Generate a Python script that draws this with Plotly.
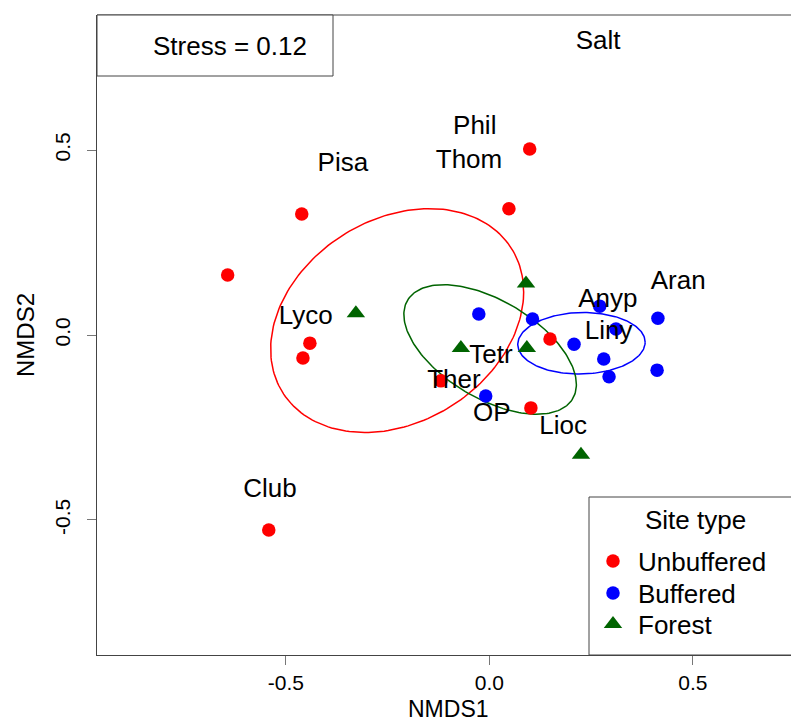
import numpy as np
import plotly.graph_objects as go

# ---- data ----
unbuf_x = [0.099, 0.048, -0.461, -0.643, -0.441, -0.458, -0.119, 0.149, 0.102, -0.542]
unbuf_y = [0.503, 0.341, 0.327, 0.162, -0.022, -0.062, -0.124, -0.011, -0.197, -0.527]
buf_x = [-0.026, -0.009, 0.106, 0.208, 0.271, 0.311, 0.281, 0.294, 0.414, 0.412]
buf_y = [0.057, -0.165, 0.043, -0.025, 0.078, 0.016, -0.065, -0.113, 0.045, -0.095]
forest_x = [-0.328, -0.070, 0.090, 0.092, 0.225]
forest_y = [0.059, -0.035, 0.139, -0.035, -0.324]

species = ["Salt", "Phil", "Thom", "Pisa", "Lyco", "Tetr", "Ther", "OP", "Lioc",
           "Anyp", "Liny", "Aran", "Club"]
species_x = [0.267, -0.036, -0.050, -0.360, -0.451, 0.004, -0.087, 0.006, 0.181,
             0.291, 0.293, 0.464, -0.539]
species_y = [0.792, 0.562, 0.470, 0.462, 0.046, -0.059, -0.127, -0.216, -0.249,
             0.092, 0.008, 0.141, -0.419]

stress_text = "Stress = 0.12"
legend_title = "Site type"
x_ticks = [-0.5, 0.0, 0.5]
y_ticks = [-0.5, 0.0, 0.5]

FONT = "Liberation Sans, Arial, Helvetica, sans-serif"


def sd_ellipse(xs, ys, n=200):
    """ordiellipse(kind='sd'): 1-sd covariance ellipse around the centroid."""
    pts = np.column_stack([xs, ys])
    c = pts.mean(axis=0)
    cov = np.cov(pts, rowvar=False)
    L = np.linalg.cholesky(cov)
    t = np.linspace(0, 2 * np.pi, n)
    circ = np.vstack([np.cos(t), np.sin(t)])
    e = (L @ circ).T + c
    return e[:, 0], e[:, 1]


W, H = 791, 724
ml, mr, mt, mb = 97, 0, 15, H - 655
pw, ph = W - ml - mr, H - mt - mb


def px_x(p):
    return (p - ml) / pw


def px_y(p):
    return (H - mb - p) / ph


fig = go.Figure()

groups = [
    ("Unbuffered", unbuf_x, unbuf_y, "red", "circle", 13.5, "legend", 561),
    ("Buffered", buf_x, buf_y, "blue", "circle", 13.5, "legend2", 593),
    ("Forest", forest_x, forest_y, "#006400", "triangle-up", 16, "legend3", 624),
]

for g in groups:
    name, xs, ys, col = g[:4]
    ex, ey = sd_ellipse(xs, ys)
    fig.add_trace(go.Scatter(x=ex, y=ey, mode="lines", line=dict(color=col, width=1.5),
                             showlegend=False, hoverinfo="skip"))

for name, xs, ys, col, sym, sz, leg, _ in groups:
    fig.add_trace(go.Scatter(x=xs, y=ys, mode="markers", name=name, legend=leg,
                             marker=dict(color=col, symbol=sym, size=sz, line=dict(width=0))))

fig.add_trace(go.Scatter(x=species_x, y=species_y, mode="text", text=species,
                         textposition="middle center",
                         textfont=dict(family=FONT, size=26, color="black"),
                         showlegend=False, hoverinfo="skip"))

legend_common = dict(xanchor="left", yanchor="middle", bgcolor="rgba(0,0,0,0)",
                     borderwidth=0, itemsizing="trace", itemwidth=40,
                     font=dict(family=FONT, size=26, color="black"))

layout_legends = {}
for name, xs, ys, col, sym, sz, leg, ypx in groups:
    layout_legends[leg] = dict(x=px_x(588), y=px_y(ypx), **legend_common)

fig.update_layout(
    width=W, height=H,
    margin=dict(l=ml, r=mr, t=mt, b=mb, pad=0),
    paper_bgcolor="white", plot_bgcolor="white",
    font=dict(family=FONT, color="black"),
    showlegend=True,
    **layout_legends,
    xaxis=dict(range=[-0.964, 0.741], tickmode="array", tickvals=x_ticks,
               ticktext=[f"{v:.1f}" for v in x_ticks],
               showgrid=False, zeroline=False, showline=True, linecolor="#444", linewidth=1,
               ticks="outside", ticklen=9, tickcolor="#777", tickwidth=1,
               tickfont=dict(family=FONT, size=21, color="black")),
    yaxis=dict(range=[-0.865, 0.865], tickmode="array", tickvals=y_ticks,
               ticktext=[f"{v:.1f}" for v in y_ticks], tickangle=-90,
               ticklabelstandoff=9,
               showgrid=False, zeroline=False, showline=True, linecolor="#444", linewidth=1,
               ticks="outside", ticklen=9, tickcolor="#777", tickwidth=1,
               tickfont=dict(family=FONT, size=21, color="black")),
    shapes=[
        dict(type="line", xref="paper", yref="paper", x0=0, x1=1, y0=1, y1=1,
             line=dict(color="#444", width=1)),
        dict(type="rect", xref="paper", yref="paper", x0=0, x1=px_x(333),
             y0=px_y(76), y1=1, line=dict(color="#444", width=1), fillcolor="white",
             layer="above"),
        dict(type="rect", xref="paper", yref="paper", x0=px_x(589), x1=px_x(830),
             y0=0, y1=px_y(497), line=dict(color="#444", width=1), fillcolor="white",
             layer="above"),
    ],
    annotations=[
        dict(text=stress_text, xref="paper", yref="paper", x=px_x(230), y=px_y(46),
             xanchor="center", yanchor="middle", showarrow=False,
             font=dict(family=FONT, size=26, color="black")),
        dict(text=legend_title, xref="paper", yref="paper", x=px_x(695), y=px_y(520),
             xanchor="center", yanchor="middle", showarrow=False,
             font=dict(family=FONT, size=26, color="black")),
        dict(text="NMDS1", xref="paper", yref="paper", x=px_x(448), y=px_y(709),
             xanchor="center", yanchor="middle", showarrow=False,
             font=dict(family=FONT, size=23, color="black")),
        dict(text="NMDS2", xref="paper", yref="paper", x=px_x(25), y=px_y(335),
             xanchor="center", yanchor="middle", showarrow=False, textangle=-90,
             font=dict(family=FONT, size=24, color="black")),
    ],
)

fig.write_html(
    "out.html",
    config={"displayModeBar": False},
    post_script="document.body.style.margin='0';document.body.style.overflow='hidden';"
                "document.documentElement.style.overflow='hidden';",
)
